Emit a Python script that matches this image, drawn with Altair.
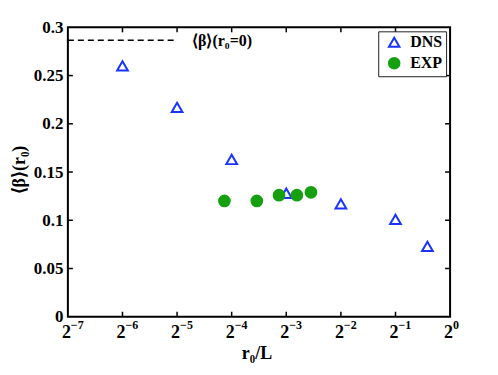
import altair as alt
import pandas as pd

# ---- data ----
dns_x = [2**-6, 2**-5, 2**-4, 2**-3, 2**-2, 2**-1, 0.75]
dns_y = [0.260, 0.217, 0.163, 0.128, 0.117, 0.101, 0.073]
exp_x = [0.057, 0.086, 0.114, 0.143, 0.171]
exp_y = [0.120, 0.120, 0.126, 0.126, 0.129]
series_names = ["DNS", "EXP"]
ref_value = 0.2865
ref_span = [2**-7, 2**-5]
x_ticks = [2**-7, 2**-6, 2**-5, 2**-4, 2**-3, 2**-2, 2**-1, 2**0]
x_exponents = ["\u22127", "\u22126", "\u22125", "\u22124", "\u22123", "\u22122", "\u22121", "0"]
y_ticks = [0, 0.05, 0.1, 0.15, 0.2, 0.25, 0.3]

W, H = 383, 290
FONT = "Liberation Serif"
BLUE = "#1a33ff"
GREEN = "#16a010"

pts = pd.DataFrame({
    "x": dns_x + exp_x,
    "y": dns_y + exp_y,
    "series": ["DNS"] * len(dns_x) + ["EXP"] * len(exp_x),
})
ref_df = pd.DataFrame({"x": [ref_span[0]], "x2": [ref_span[1]], "y": [ref_value]})
xt_df = pd.DataFrame({"x": x_ticks, "e": x_exponents})
xt_inner = pd.DataFrame({"x": x_ticks[1:-1]})
yt_inner = pd.DataFrame({"y": y_ticks[1:-1]})

xscale = alt.Scale(type="log", base=2, domain=[2**-7, 1], nice=False)
yscale = alt.Scale(domain=[0, 0.3], nice=False, zero=False)
xaxis = alt.Axis(labels=False, ticks=False, domain=False, grid=False, title=None)
yaxis = alt.Axis(values=y_ticks, format="~g", labels=True, ticks=False, domain=False,
                 grid=False, title=None, labelFont=FONT, labelFontWeight="bold",
                 labelFontSize=17, labelColor="black", labelPadding=5)

X = alt.X("x:Q", scale=xscale, axis=xaxis)
Y = alt.Y("y:Q", scale=yscale, axis=yaxis)

points = alt.Chart(pts).mark_point(strokeWidth=2, size=115, opacity=1).encode(
    x=X, y=Y,
    shape=alt.Shape("series:N", scale=alt.Scale(domain=series_names, range=["triangle-up", "circle"]),
                    legend=alt.Legend(title=None)),
    stroke=alt.Stroke("series:N", scale=alt.Scale(domain=series_names, range=[BLUE, GREEN]),
                      legend=alt.Legend(title=None)),
    fill=alt.Fill("series:N", scale=alt.Scale(domain=series_names, range=["transparent", GREEN]),
                  legend=alt.Legend(title=None)),
)

ref_line = alt.Chart(ref_df).mark_rule(color="black", strokeWidth=1.5, strokeDash=[6, 4]).encode(
    x=X, x2="x2:Q", y=Y)
ref_text = alt.Chart(ref_df).mark_text(
    text="\u27e8\u03b2\u27e9(r\u2080=0)", align="left", baseline="middle", dx=15, dy=1,
    font=FONT, fontWeight="bold", fontSize=16, color="black").encode(
    x=alt.X("x2:Q", scale=xscale, axis=xaxis), y=Y)

base_lbl = alt.Chart(xt_df).mark_text(
    text="2", align="right", baseline="alphabetic", dx=3, font=FONT, fontWeight="bold",
    fontSize=18, color="black").encode(x=X, y=alt.value(H + 21))
exp_lbl = alt.Chart(xt_df).mark_text(
    align="left", baseline="alphabetic", dx=3, font=FONT, fontWeight="bold",
    fontSize=12, color="black").encode(x=X, y=alt.value(H + 12), text="e:N")

tick_b = alt.Chart(xt_inner).mark_rule(color="black", strokeWidth=1.5).encode(
    x=X, y=alt.value(H), y2=alt.value(H - 5))
tick_t = alt.Chart(xt_inner).mark_rule(color="black", strokeWidth=1.5).encode(
    x=X, y=alt.value(0), y2=alt.value(5))
tick_l = alt.Chart(yt_inner).mark_rule(color="black", strokeWidth=1.5).encode(
    y=Y, x=alt.value(0), x2=alt.value(5))
tick_r = alt.Chart(yt_inner).mark_rule(color="black", strokeWidth=1.5).encode(
    y=Y, x=alt.value(W), x2=alt.value(W - 5))

x_title = alt.Chart(pd.DataFrame({"t": ["r\u2080/L"]})).mark_text(
    align="center", baseline="alphabetic", font=FONT, fontWeight="bold", fontSize=18,
    color="black").encode(text="t:N", x=alt.value(W / 2 - 2), y=alt.value(H + 42))
y_title = alt.Chart(pd.DataFrame({"t": ["\u27e8\u03b2\u27e9(r\u2080)"]})).mark_text(
    align="center", baseline="middle", angle=270, font=FONT, fontWeight="bold", fontSize=18,
    color="black").encode(text="t:N", x=alt.value(-48), y=alt.value(H / 2 - 2))

chart = alt.layer(
    ref_line, ref_text, tick_b, tick_t, tick_l, tick_r, base_lbl, exp_lbl,
    x_title, y_title, points
).properties(
    width=W, height=H,
    autosize=alt.AutoSizeParams(type="none"),
    padding={"left": 60, "top": 19, "right": 40, "bottom": 50},
).configure_view(
    stroke="black", strokeWidth=2
).configure_legend(
    orient="top-right", offset=4, fillColor="white", strokeColor="#222", strokeWidth=1,
    padding=3, labelFont=FONT, labelFontWeight="bold", labelFontSize=16, labelColor="black",
    symbolSize=110, symbolStrokeWidth=2, rowPadding=2, symbolOffset=5, labelOffset=8,
    symbolOpacity=1
)

chart.save("out.html", embed_options={"renderer": "svg", "actions": False})
